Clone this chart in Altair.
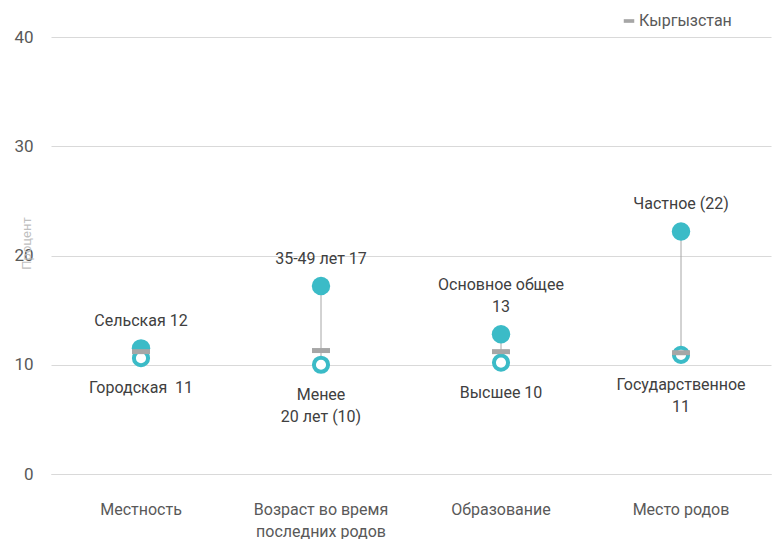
import altair as alt
import pandas as pd

categories = ["Местность", "Возраст во время|последних родов", "Образование", "Место родов"]
high = [11.5, 17.2, 12.8, 22.2]
low = [10.6, 10.0, 10.2, 10.9]
kyrgyzstan = [11.2, 11.3, 11.2, 11.1]
high_labels = ["Сельская 12", "35-49 лет 17", "Основное общее|13", "Частное (22)"]
low_labels = ["Городская \u00a011", "Менее|20 лет (10)", "Высшее 10", "Государственное|11"]
y_ticks = [0, 10, 20, 30, 40]

df = pd.DataFrame({
    "cat": categories,
    "high": high,
    "low": low,
    "kg": kyrgyzstan,
    "hl": high_labels,
    "ll": low_labels,
    "series": ["Кыргызстан"] * len(categories),
})

TEAL = "#3BBBC7"
GRAY = "#A6A6A6"
FONT = "Roboto"
FS = 16
LH = 22

x = alt.X("cat:N", sort=categories, title=None,
          scale=alt.Scale(paddingInner=0, paddingOuter=0),
          axis=alt.Axis(labelAngle=0, labelExpr="split(datum.label, '|')",
                        labelPadding=27, labelLineHeight=LH, labelFontSize=FS,
                        labelColor="#595959", labelFont=FONT, ticks=False,
                        domainColor="#d9d9d9", grid=False))
y_axis = alt.Axis(values=y_ticks, title="Процент", titleFontSize=13, titleColor="#bfbfbf",
                  titleFontWeight="normal", titleFont=FONT, titleX=-25, titleY=206,
                  titleBaseline="middle",
                  labelFontSize=17, labelColor="#595959", labelFont=FONT, labelPadding=18,
                  ticks=False, domain=False, gridColor="#d9d9d9")

base = alt.Chart(df)

rule = base.mark_rule(color=GRAY, strokeWidth=1).encode(
    x=x,
    y=alt.Y("high:Q", scale=alt.Scale(domain=[0, 40]), axis=y_axis),
    y2="low:Q",
)
hi = base.mark_circle(size=340, color=TEAL, opacity=1).encode(x=x, y="high:Q")
lo = base.mark_point(shape="circle", fill="white", stroke=TEAL, strokeWidth=4,
                     size=200, opacity=1, fillOpacity=1).encode(x=x, y="low:Q")
kg = base.mark_tick(thickness=5, size=18, opacity=1).encode(
    x=x, y="kg:Q",
    color=alt.Color("series:N",
                    scale=alt.Scale(domain=["Кыргызстан"], range=[GRAY]),
                    legend=alt.Legend(orient="none", legendX=570, legendY=-24, title=None,
                                      symbolType="M-1,-0.35H1V0.35H-1Z", symbolSize=110,
                                      symbolFillColor=GRAY, symbolStrokeWidth=0,
                                      labelFontSize=FS, labelColor="#595959", labelFont=FONT,
                                      labelOffset=2, padding=0)),
)
multi = "indexof(datum.hl, '|') >= 0"
t_hi1 = base.transform_filter("indexof(datum.hl, '|') < 0").mark_text(
    baseline="bottom", dy=-19, fontSize=FS, color="#404040", font=FONT,
    lineBreak="|", lineHeight=LH).encode(x=x, y="high:Q", text="hl:N")
t_hi2 = base.transform_filter(multi).mark_text(
    baseline="bottom", dy=-19 - LH, fontSize=FS, color="#404040", font=FONT,
    lineBreak="|", lineHeight=LH).encode(x=x, y="high:Q", text="hl:N")
t_lo = base.mark_text(baseline="top", dy=22, fontSize=FS, color="#404040",
                      font=FONT, lineBreak="|", lineHeight=LH).encode(x=x, y="low:Q", text="ll:N")

chart = alt.layer(rule, hi, lo, kg, t_hi1, t_hi2, t_lo).properties(
    width=720, height=437,
    padding={"left": 5, "top": 5, "right": 2, "bottom": 2},
).configure_view(stroke=None)

chart.save("out.html", embed_options={"renderer": "svg", "actions": False})
